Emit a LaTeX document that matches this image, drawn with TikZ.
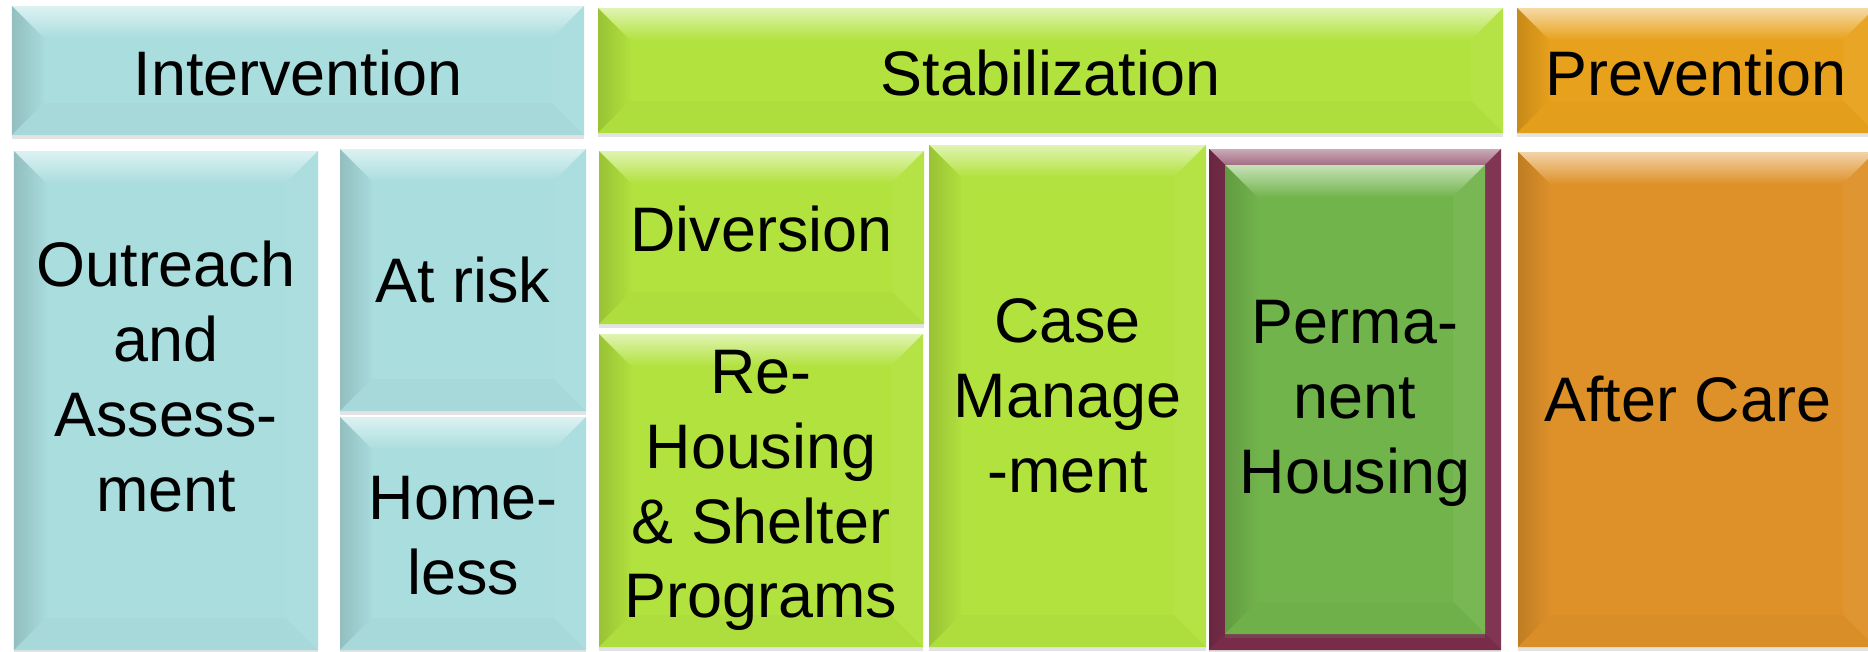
\documentclass[tikz,border=0pt]{standalone}
\usepackage{fontspec}
\setmainfont{Liberation Sans}
\usepackage{tikz}
\usetikzlibrary{shadows}

\definecolor{interteal}{HTML}{AADDDE}
\definecolor{stablime}{HTML}{B2E23E}
\definecolor{prevorange}{HTML}{E8A11C}
\definecolor{careorange}{HTML}{DE9129}
\definecolor{permgreen}{HTML}{72B44C}
\definecolor{permframe}{HTML}{7B2D4C}

\newcommand{\tilefont}{\fontsize{17.9}{21.3}\selectfont}

\tikzset{
    tile/.style={rectangle, inner sep=0pt, fill=#1,
        drop shadow={shadow xshift=0pt, shadow yshift=-1pt, opacity=0.22},
        path picture={
            \coordinate (nw) at (path picture bounding box.north west);
            \coordinate (ne) at (path picture bounding box.north east);
            \coordinate (sw) at (path picture bounding box.south west);
            \coordinate (se) at (path picture bounding box.south east);
            % bevel: top, left, right, bottom
            \shade[top color=#1!40!white, middle color=#1!92!white, bottom color=#1]
                (nw) -- (ne) -- ([shift={(-0.32,-0.32)}]ne) -- ([shift={(0.32,-0.32)}]nw) -- cycle;
            \shade[left color=#1!86!black, right color=#1!99!black]
                (nw) -- ([shift={(0.32,-0.32)}]nw) -- ([shift={(0.32,0.32)}]sw) -- (sw) -- cycle;
            \fill[#1!96!white]
                (ne) -- (se) -- ([shift={(-0.32,0.32)}]se) -- ([shift={(-0.32,-0.32)}]ne) -- cycle;
            \fill[#1!98!black]
                (sw) -- ([shift={(0.32,0.32)}]sw) -- ([shift={(-0.32,0.32)}]se) -- (se) -- cycle;
        }},
    lbl/.style={inner sep=0pt, align=center, font=\tilefont},
}

\begin{document}
\begin{tikzpicture}
    \useasboundingbox[fill=white] (0,0) rectangle (18.68,6.51);

    % Tiles: name / corners / colour / text shift / text
    \foreach \nm/\xa/\ya/\xb/\yb/\col/\dy/\txt in {
        intervention/0.12/5.16/5.84/6.45/interteal/-0.03/{Intervention},
        stabilization/5.98/5.18/15.03/6.43/stablime/-0.03/{Stabilization},
        prevention/15.17/5.18/18.75/6.43/prevorange/-0.03/{Prevention},
        outreach/0.14/0.01/3.18/5.00/interteal/0.24/{Outreach\\and\\Assess-\\ment},
        atrisk/3.40/2.40/5.86/5.02/interteal/0/{At risk},
        homeless/3.40/0.01/5.86/2.34/interteal/-0.02/{Home-\\less},
        diversion/5.99/3.27/9.24/5.00/stablime/0.08/{Diversion},
        rehousing/5.99/0.04/9.23/3.17/stablime/0/{Re-\\Housing\\\& Shelter\\Programs},
        casemgmt/9.29/0.04/12.06/5.06/stablime/0/{Case\\Manage\\-ment},
        aftercare/15.18/0.04/18.75/4.99/careorange/0/{After Care}
    } {
        \pgfmathsetmacro{\w}{\xb-\xa}
        \pgfmathsetmacro{\h}{\yb-\ya}
        \node[tile=\col, minimum width=\w cm, minimum height=\h cm] (\nm) at ({(\xa+\xb)/2},{(\ya+\yb)/2}) {};
        \node[lbl] (\nm-txt) at ([yshift=\dy cm]\nm.center) {\txt};
    }

    % Permanent housing, framed
    \node[tile=permframe, minimum width=2.92cm, minimum height=5.01cm] (permhousing) at (13.55,2.515) {};
    \node[tile=permgreen, minimum width=2.60cm, minimum height=4.69cm] (perminner) at (permhousing.center) {};
    \node[lbl] (permhousing-txt) at ([yshift=-0.04cm]perminner.center) {Perma-\\nent\\Housing};
\end{tikzpicture}
\end{document}
